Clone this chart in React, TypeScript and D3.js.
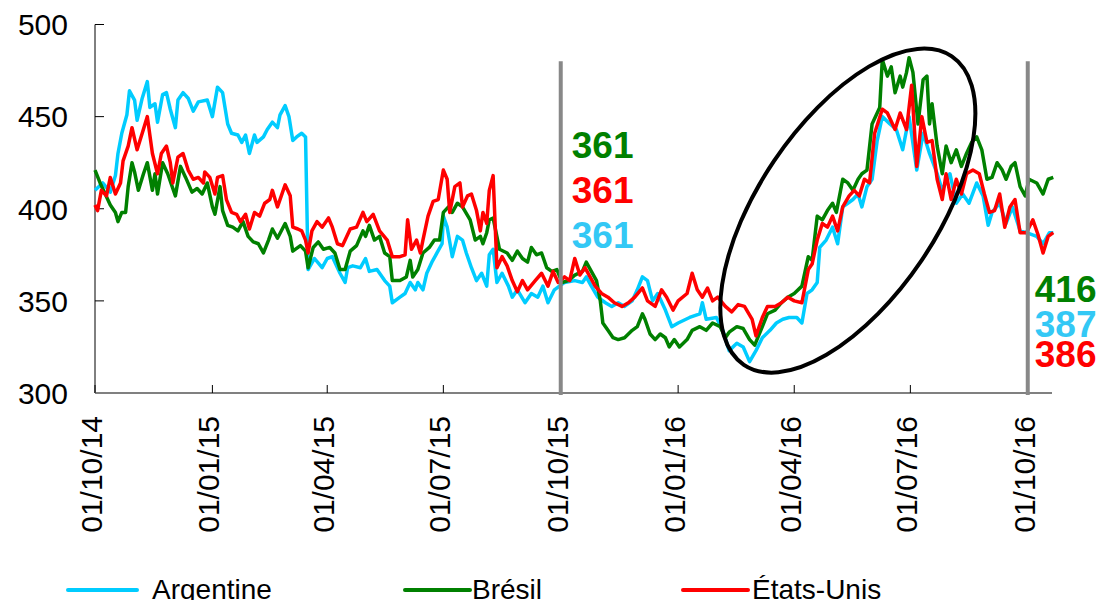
import React from 'react';
import * as d3 from 'd3';

// Soybean prices, daily series (day offset from 01/10/14, value)
const START = Date.UTC(2014, 9, 1);

const ARG_DAYS = [0, 6, 12, 16, 18, 21, 25, 27, 31, 33, 37, 41, 43, 47, 49, 53, 56, 59, 63, 65, 69, 73, 77, 81, 88, 92, 96, 100, 104, 107, 112, 115, 118, 121, 125, 127, 132, 135, 139, 143, 145, 149, 152, 155, 158, 162, 165, 167, 172, 178, 182, 186, 192, 196, 198, 202, 208, 212, 215, 221, 227, 231, 233, 239, 243, 247, 251, 253, 257, 260, 264, 268, 272, 273, 276, 280, 284, 288, 291, 295, 299, 303, 307, 309, 312, 315, 319, 324, 327, 331, 337, 342, 347, 351, 355, 360, 368, 376, 382, 385, 389, 394, 400, 405, 410, 415, 421, 425, 429, 433, 437, 441, 447, 452, 457, 466, 474, 476, 479, 487, 492, 497, 503, 508, 513, 518, 523, 529, 534, 539, 544, 550, 554, 558, 562, 566, 568, 573, 578, 582, 586, 590, 594, 598, 601, 605, 609, 613, 617, 623, 628, 633, 638, 644, 649, 654, 660, 664, 670, 675, 680, 685, 691, 696, 700, 703, 709, 714, 719, 725, 730, 738, 743, 748, 751];
const ARG_VALUES = [410, 414, 409, 418, 430, 441, 451, 464, 459, 448, 460, 469, 455, 457, 447, 462, 463, 454, 444, 459, 463, 460, 453, 458, 459, 450, 466, 463, 446, 441, 440, 436, 440, 430, 440, 436, 439, 443, 447, 444, 451, 456, 450, 437, 439, 441, 439, 367, 373, 368, 373, 374, 365, 360, 368, 369, 368, 373, 366, 367, 361, 358, 349, 352, 354, 360, 356, 360, 356, 365, 371, 376, 381, 396, 390, 374, 385, 383, 376, 368, 361, 365, 358, 375, 378, 360, 365, 358, 352, 356, 349, 354, 352, 358, 349, 356, 360, 361, 360, 363, 358, 352, 349, 347, 349, 347, 350, 356, 363, 361, 350, 354, 345, 336, 338, 341, 343, 349, 340, 341, 334, 323, 327, 325, 317, 323, 330, 334, 338, 340, 341, 341, 338, 354, 356, 360, 379, 383, 390, 381, 401, 403, 405, 408, 401, 412, 416, 437, 450, 446, 443, 432, 450, 421, 441, 430, 419, 410, 419, 403, 408, 403, 414, 407, 391, 398, 403, 392, 401, 388, 387, 385, 381, 387, 387];

const BRA_DAYS = [0, 4, 8, 12, 16, 18, 21, 24, 26, 29, 31, 34, 38, 41, 45, 47, 49, 53, 57, 63, 67, 71, 76, 80, 84, 88, 92, 94, 98, 100, 104, 108, 112, 116, 120, 124, 128, 132, 136, 139, 143, 149, 153, 155, 161, 165, 167, 171, 175, 179, 184, 188, 192, 196, 200, 205, 210, 212, 215, 219, 223, 227, 231, 233, 239, 244, 247, 249, 253, 257, 262, 266, 270, 273, 277, 280, 284, 288, 294, 298, 302, 304, 307, 309, 312, 317, 323, 327, 331, 335, 339, 342, 346, 350, 354, 358, 362, 366, 371, 376, 382, 385, 389, 393, 396, 398, 402, 406, 410, 415, 421, 425, 429, 431, 435, 439, 443, 447, 450, 454, 458, 464, 468, 474, 479, 484, 490, 494, 497, 503, 508, 513, 517, 523, 527, 533, 538, 543, 548, 554, 559, 562, 566, 570, 574, 578, 581, 586, 590, 594, 598, 601, 605, 609, 613, 615, 617, 621, 624, 627, 631, 633, 636, 638, 641, 645, 649, 652, 654, 656, 660, 664, 667, 671, 675, 679, 683, 687, 691, 695, 699, 703, 707, 711, 714, 718, 721, 725, 729, 732, 738, 743, 747, 751];
const BRA_VALUES = [421, 414, 408, 402, 398, 393, 398, 398, 412, 425, 420, 410, 419, 425, 410, 419, 408, 425, 419, 407, 423, 417, 409, 411, 408, 414, 401, 397, 412, 399, 391, 390, 388, 393, 385, 382, 381, 376, 383, 389, 384, 392, 385, 377, 380, 377, 368, 379, 382, 378, 379, 376, 367, 367, 377, 380, 388, 385, 391, 383, 385, 376, 374, 361, 361, 363, 372, 363, 367, 376, 379, 383, 383, 398, 401, 398, 403, 401, 394, 383, 385, 381, 387, 394, 395, 378, 376, 372, 377, 373, 371, 379, 375, 376, 368, 366, 367, 360, 361, 364, 366, 371, 366, 361, 350, 338, 334, 330, 329, 330, 334, 336, 343, 340, 332, 329, 332, 330, 325, 329, 325, 329, 334, 336, 334, 338, 336, 330, 333, 336, 335, 329, 326, 336, 343, 345, 349, 352, 354, 358, 374, 372, 396, 394, 399, 403, 398, 416, 414, 410, 416, 419, 421, 446, 452, 455, 481, 472, 477, 463, 472, 466, 474, 482, 474, 446, 470, 472, 446, 457, 434, 419, 434, 425, 432, 423, 430, 436, 439, 432, 416, 417, 425, 421, 416, 423, 425, 412, 407, 416, 414, 408, 416, 417];

const USA_DAYS = [0, 2, 5, 9, 12, 16, 20, 22, 26, 29, 33, 37, 41, 45, 49, 52, 56, 59, 61, 65, 69, 73, 77, 81, 85, 86, 90, 94, 96, 100, 103, 107, 111, 114, 118, 121, 125, 129, 133, 137, 139, 143, 146, 149, 153, 155, 159, 162, 165, 167, 170, 174, 178, 183, 186, 190, 194, 200, 205, 210, 213, 218, 223, 229, 233, 239, 243, 245, 248, 252, 255, 257, 261, 265, 269, 273, 276, 278, 282, 286, 288, 292, 295, 299, 302, 304, 307, 309, 312, 315, 319, 323, 327, 331, 335, 339, 345, 350, 355, 359, 363, 368, 372, 376, 380, 384, 388, 392, 397, 402, 407, 413, 418, 423, 429, 433, 439, 444, 448, 453, 457, 464, 468, 472, 476, 480, 484, 488, 494, 499, 504, 509, 515, 518, 523, 527, 533, 538, 543, 548, 554, 559, 562, 566, 570, 574, 578, 582, 586, 591, 595, 599, 603, 607, 611, 617, 621, 627, 631, 636, 640, 644, 648, 652, 656, 660, 664, 667, 671, 675, 679, 683, 688, 693, 697, 701, 705, 709, 713, 717, 721, 725, 730, 735, 739, 743, 747, 751];
const USA_VALUES = [402, 399, 410, 407, 417, 408, 414, 426, 434, 444, 432, 441, 450, 430, 419, 430, 434, 425, 414, 428, 430, 421, 416, 417, 414, 420, 417, 408, 417, 418, 405, 398, 397, 393, 397, 389, 398, 396, 403, 405, 410, 401, 407, 413, 407, 390, 389, 388, 383, 376, 388, 393, 390, 395, 390, 381, 380, 389, 390, 398, 393, 397, 388, 383, 374, 374, 375, 394, 378, 383, 376, 383, 396, 404, 405, 421, 416, 398, 412, 414, 401, 407, 408, 399, 388, 398, 392, 410, 418, 368, 374, 369, 361, 355, 361, 356, 361, 365, 358, 366, 360, 363, 361, 373, 364, 368, 363, 358, 354, 352, 349, 347, 349, 352, 357, 350, 347, 356, 352, 345, 350, 354, 365, 356, 352, 357, 350, 352, 347, 344, 348, 347, 340, 331, 341, 347, 347, 349, 352, 350, 349, 367, 370, 383, 392, 390, 396, 388, 401, 407, 410, 407, 416, 414, 441, 454, 452, 443, 452, 443, 467, 423, 450, 436, 437, 416, 405, 419, 405, 416, 408, 419, 421, 419, 408, 398, 399, 408, 390, 401, 405, 387, 387, 394, 386, 376, 385, 387];

const SERIES = [
  { name: 'Argentine', color: '#00ccff', label: '#33c8f5', days: ARG_DAYS, values: ARG_VALUES },
  { name: 'Brésil', color: '#008000', label: '#008000', days: BRA_DAYS, values: BRA_VALUES },
  { name: 'États-Unis', color: '#ff0000', label: '#ff0000', days: USA_DAYS, values: USA_VALUES },
];

const Y_TICKS = [300, 350, 400, 450, 500];
const X_TICKS = ['2014-10-01', '2015-01-01', '2015-04-01', '2015-07-01', '2015-10-01', '2016-01-01', '2016-04-01', '2016-07-01', '2016-10-01'];
const MARKERS = ['2015-10-01', '2016-10-01'];

// Values shown beside each marker line
const LEFT_LABELS = [
  { text: '361', color: '#008000' },
  { text: '361', color: '#ff0000' },
  { text: '361', color: '#33c8f5' },
];
const RIGHT_LABELS = [
  { text: '416', color: '#008000' },
  { text: '387', color: '#33c8f5' },
  { text: '386', color: '#ff0000' },
];

const FONT = '"Liberation Sans", Arial, sans-serif';

export default function App() {
  const W = 1106, H = 600;
  const x = d3.scaleUtc().domain([new Date(START), new Date(Date.UTC(2016, 9, 20))]).range([95, 1052]);
  const y = d3.scaleLinear().domain([300, 500]).range([393, 24.5]);
  const dayToDate = (d: number) => d3.utcDay.offset(new Date(START), d);
  const fmt = d3.utcFormat('%d/%m/%y');
  const parse = d3.utcParse('%Y-%m-%d');

  const line = d3.line<[number, number]>()
    .x((p) => x(dayToDate(p[0])))
    .y((p) => y(p[1]));

  const m1 = x(parse(MARKERS[0])!);
  const m2 = x(parse(MARKERS[1])!);

  // annotation ellipse around the 2016 rally
  const ex = x(dayToDate(590)), ey = y(399);

  const legend = [
    { x1: 68, x2: 137, tx: 152 },
    { x1: 405, x2: 470, tx: 472 },
    { x1: 683, x2: 748, tx: 752 },
  ];

  return (
    <div style={{ position: 'absolute', left: 0, top: 0 }}>
      <svg width={W} height={H} style={{ display: 'block', background: '#fff' }} fontFamily={FONT}>
        {/* y axis */}
        <line x1={95} x2={95} y1={y(500)} y2={y(300)} stroke="#000" strokeWidth={1} />
        {Y_TICKS.map((t) => (
          <g key={t}>
            <line x1={95} x2={104} y1={y(t)} y2={y(t)} stroke="#000" strokeWidth={1} />
            <text x={68} y={y(t)} dy="0.36em" textAnchor="end" fontSize={30} fill="#000">{t}</text>
          </g>
        ))}

        {/* x axis */}
        <line x1={95} x2={1052} y1={393} y2={393} stroke="#808080" strokeWidth={2} />
        {X_TICKS.map((t) => {
          const xx = x(parse(t)!);
          return (
            <g key={t}>
              <line x1={xx} x2={xx} y1={385} y2={393} stroke="#000" strokeWidth={1} />
              <text transform={`translate(${xx + 7},416) rotate(-90)`} textAnchor="end" fontSize={30} fill="#000">{fmt(parse(t)!)}</text>
            </g>
          );
        })}

        {/* series */}
        {SERIES.map((s) => (
          <path key={s.name} d={line(s.days.map((d, i) => [d, s.values[i]] as [number, number])) || ''}
            fill="none" stroke={s.color} strokeWidth={3.5} strokeLinejoin="round" />
        ))}

        {/* marker lines */}
        {[m1, m2].map((mx, i) => (
          <line key={i} x1={mx} x2={mx} y1={y(480)} y2={395} stroke="#888" strokeWidth={4} />
        ))}

        <ellipse cx={ex} cy={ey} rx={186} ry={89} fill="none" stroke="#000" strokeWidth={4}
          transform={`rotate(-56, ${ex}, ${ey})`} />

        {LEFT_LABELS.map((l, i) => (
          <text key={i} x={m1 + 11} y={158 + i * 45} fontSize={37} fontWeight="bold" fill={l.color}>{l.text}</text>
        ))}
        {RIGHT_LABELS.map((l, i) => (
          <text key={i} x={m2 + 7} y={[302, 337, 367][i]} fontSize={37} fontWeight="bold" fill={l.color}>{l.text}</text>
        ))}

        {/* legend */}
        {SERIES.map((s, i) => (
          <g key={s.name}>
            <line x1={legend[i].x1} x2={legend[i].x2} y1={590} y2={590} stroke={s.color} strokeWidth={4} strokeLinecap="round" />
            <text x={legend[i].tx} y={599} fontSize={28} fill="#000">{s.name}</text>
          </g>
        ))}
      </svg>
    </div>
  );
}
